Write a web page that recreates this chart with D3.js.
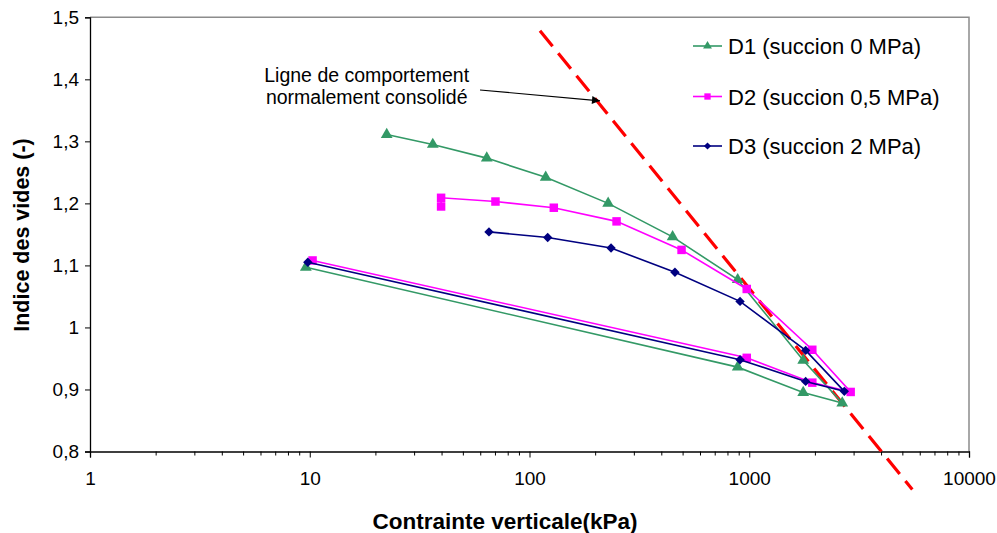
<!DOCTYPE html>
<html>
<head>
<meta charset="utf-8">
<script src="https://cdn.jsdelivr.net/npm/d3@7"></script>
<style>
html,body{margin:0;padding:0;background:#fff;}
svg{display:block;font-family:"Liberation Sans",Arial,sans-serif;}
</style>
</head>
<body>
<svg id="chart" width="997" height="533"></svg>
<script>
// ---- data ----
const xTicks = [1, 10, 100, 1000, 10000];
const yTicks = [0.8, 0.9, 1.0, 1.1, 1.2, 1.3, 1.4, 1.5];

const d1X = [22.4, 36.3, 63.9, 118.5, 228, 448, 886, 1760, 2650, 1760, 886, 9.6];
const d1Y = [1.311, 1.295, 1.273, 1.242, 1.200, 1.146, 1.077, 0.947, 0.878, 0.895, 0.936, 1.097];

const d2X = [39.6, 39.6, 70, 129, 249, 492, 974, 1936, 2894, 1936, 974, 10.3];
const d2Y = [1.195, 1.209, 1.203, 1.193, 1.171, 1.125, 1.062, 0.964, 0.896, 0.911, 0.951, 1.108];

const d3X = [65.4, 121, 235, 459, 908, 1806, 2708, 1806, 908, 9.8];
const d3Y = [1.154, 1.145, 1.128, 1.089, 1.042, 0.963, 0.897, 0.913, 0.948, 1.105];

const ncX = [111.6, 5521];
const ncY = [1.4785, 0.7387];

const seriesNames = ["D1 (succion 0 MPa)", "D2 (succion 0,5 MPa)", "D3 (succion 2 MPa)"];
const xTitle = "Contrainte verticale(kPa)";
const yTitle = "Indice des vides (-)";
const annotation = ["Ligne de comportement", "normalement consolidé"];

// ---- layout ----
const svg = d3.select("#chart");
const L = 90, R = 969, T = 17.3, B = 451.5;
const x = d3.scaleLog().domain([1, 10000]).range([L, R]);
const y = d3.scaleLinear().domain([0.8, 1.5]).range([B, T]);

const series = [
  {xs: d1X, ys: d1Y, color: "#339966", sym: d3.symbolTriangle, size: 60, lsize: 34, rot: 0},
  {xs: d2X, ys: d2Y, color: "#FF00FF", sym: d3.symbolSquare, size: 72, lsize: 40, rot: 0},
  {xs: d3X, ys: d3Y, color: "#000080", sym: d3.symbolSquare, size: 44, lsize: 26, rot: 45}
];

// frame (top/right grey)
svg.append("path")
  .attr("d", `M${L},${T}H${R}V${B}`)
  .attr("fill", "none").attr("stroke", "#8c8c8c").attr("stroke-width", 1.5);

// y axis
const yAxis = d3.axisLeft(y).tickValues(yTicks).tickSize(5).tickPadding(6)
  .tickFormat(d => Math.abs(d - 1) < 1e-9 ? "1" : d.toFixed(1).replace(".", ","));
const gy = svg.append("g").attr("transform", `translate(${L},0)`).call(yAxis);
gy.select(".domain").attr("stroke", "#000").attr("stroke-width", 1.3);
gy.selectAll(".tick line").attr("stroke", "#000");
gy.selectAll("text").attr("font-size", 19).attr("fill", "#000")
  .attr("font-family", "Liberation Sans, Arial, sans-serif");

// x axis (major)
const xAxis = d3.axisBottom(x).tickValues(xTicks).tickSize(6).tickPadding(14)
  .tickFormat(d3.format("d"));
const gx = svg.append("g").attr("transform", `translate(0,${B})`).call(xAxis);
gx.select(".domain").attr("stroke", "#000").attr("stroke-width", 1.3);
gx.selectAll(".tick line").attr("stroke", "#000");
gx.selectAll("text").attr("font-size", 19).attr("fill", "#000")
  .attr("font-family", "Liberation Sans, Arial, sans-serif");

// minor ticks
const minor = [];
for (let dec = 1; dec < 10000; dec *= 10) for (let k = 2; k <= 9; k++) minor.push(dec * k);
svg.append("g").selectAll("line").data(minor).join("line")
  .attr("x1", d => x(d)).attr("x2", d => x(d))
  .attr("y1", B).attr("y2", B + 4)
  .attr("stroke", "#000").attr("stroke-width", 1);

// axis titles
svg.append("text").attr("x", 505).attr("y", 529)
  .attr("text-anchor", "middle").attr("font-weight", "bold").attr("font-size", 22.5)
  .text(xTitle);
svg.append("text").attr("transform", `translate(29,${235}) rotate(-90)`)
  .attr("text-anchor", "middle").attr("font-weight", "bold").attr("font-size", 21.5)
  .text(yTitle);

// normal consolidation line
svg.append("line")
  .attr("x1", x(ncX[0])).attr("y1", y(ncY[0]))
  .attr("x2", x(ncX[1])).attr("y2", y(ncY[1]))
  .attr("stroke", "#FF0000").attr("stroke-width", 3.2)
  .attr("stroke-dasharray", "20,9");

// series
const line = d3.line();
series.forEach(s => {
  const pts = s.xs.map((v, i) => [x(v), y(s.ys[i])]);
  svg.append("path").attr("d", line(pts)).attr("fill", "none")
    .attr("stroke", s.color).attr("stroke-width", 1.6);
  svg.append("g").selectAll("path").data(pts).join("path")
    .attr("transform", d => `translate(${d[0]},${d[1]}) rotate(${s.rot})`)
    .attr("d", d3.symbol().type(s.sym).size(s.size)())
    .attr("fill", s.color);
});

// legend
const legY = [46, 96.5, 146];
series.forEach((s, i) => {
  const g = svg.append("g").attr("transform", `translate(0,${legY[i]})`);
  g.append("line").attr("x1", 693).attr("x2", 722).attr("y1", 0).attr("y2", 0)
    .attr("stroke", s.color).attr("stroke-width", 1.6);
  g.append("path").attr("transform", `translate(707.5,0) rotate(${s.rot})`)
    .attr("d", d3.symbol().type(s.sym).size(s.lsize)()).attr("fill", s.color);
  g.append("text").attr("x", 728).attr("y", 8).attr("font-size", 22)
    .attr("fill", "#000").text(seriesNames[i]);
});

// annotation
svg.append("text").attr("x", 366.7).attr("y", 81.5).attr("text-anchor", "middle")
  .attr("font-size", 19.5).text(annotation[0]);
svg.append("text").attr("x", 366.7).attr("y", 104.3).attr("text-anchor", "middle")
  .attr("font-size", 19.5).text(annotation[1]);

svg.append("defs").append("marker").attr("id", "arr")
  .attr("viewBox", "0 0 10 10").attr("refX", 10).attr("refY", 5)
  .attr("markerWidth", 10).attr("markerHeight", 8).attr("markerUnits", "userSpaceOnUse")
  .attr("orient", "auto")
  .append("path").attr("d", "M0,0L10,5L0,10Z").attr("fill", "#000");
svg.append("line").attr("x1", 480).attr("y1", 90).attr("x2", 600).attr("y2", 100.8)
  .attr("stroke", "#000").attr("stroke-width", 1.2).attr("marker-end", "url(#arr)");
</script>
</body>
</html>
